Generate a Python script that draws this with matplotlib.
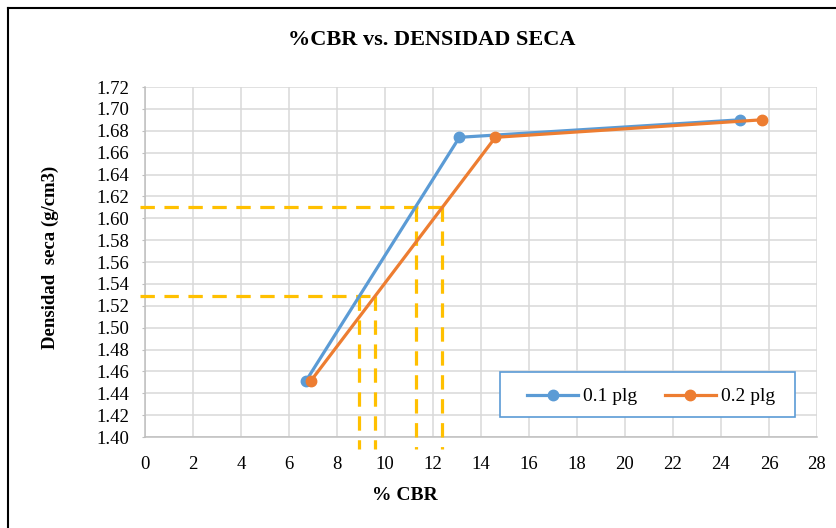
import matplotlib
matplotlib.use("Agg")
import matplotlib.pyplot as plt
from matplotlib.lines import Line2D
from matplotlib.patches import Rectangle

# Data
cbr_01 = [6.7, 13.1, 24.8]
dens_01 = [1.451, 1.674, 1.690]
cbr_02 = [6.9, 14.6, 25.7]
dens_02 = [1.451, 1.674, 1.690]

# reference (interpolated reading) lines
ref_density = [1.529, 1.610]
ref_cbr_01 = [8.92, 11.28]
ref_cbr_02 = [9.58, 12.38]

x_ticks = list(range(0, 29, 2))
y_ticks = [1.40 + 0.02 * i for i in range(17)]

blue = "#5B9BD5"
orange = "#ED7D31"
gold = "#FFC000"
serif = ["Liberation Serif", "DejaVu Serif"]

W, H = 837, 528
fig = plt.figure(figsize=(W / 100, H / 100), dpi=100)
ax = fig.add_axes([145 / W, (H - 437) / H, (817 - 145) / W, (437 - 87) / H])

# dashed reference lines
dash = (0, (4.5, 3))
for d, c1, c2 in zip(ref_density, ref_cbr_01, ref_cbr_02):
    ax.plot([-0.2, c2], [d, d], color=gold, lw=2.3, linestyle=dash, clip_on=False, zorder=3)
    for c in (c1, c2):
        ax.plot([c, c], [d, 1.389], color=gold, lw=2.3, linestyle=dash, clip_on=False, zorder=3)

ax.plot(cbr_01, dens_01, color=blue, lw=2.3, marker="o", ms=7.5, label="0.1 plg", zorder=4)
ax.plot(cbr_02, dens_02, color=orange, lw=2.3, marker="o", ms=7.5, label="0.2 plg", zorder=5)

ax.set_xlim(0, 28)
ax.set_ylim(1.40, 1.72)
ax.set_xticks(x_ticks)
ax.set_yticks(y_ticks)
ax.set_yticklabels([f"{v:.2f}" for v in y_ticks])
ax.grid(True, color="#D9D9D9", lw=1.1)
ax.set_axisbelow(True)
for s in ("top", "right"):
    ax.spines[s].set_visible(False)
for s in ("left", "bottom"):
    ax.spines[s].set_color("#BFBFBF")
    ax.spines[s].set_linewidth(1.1)
ax.tick_params(axis="y", length=2.5, color="#BFBFBF", labelsize=13.5, pad=9)
ax.tick_params(axis="x", length=0, labelsize=13.5, pad=14)
for lab in ax.get_xticklabels() + ax.get_yticklabels():
    lab.set_fontfamily(serif)

fig.text(405 / W, 1 - 495 / H, "% CBR", ha="center", va="center",
         fontfamily=serif, fontweight="bold", fontsize=14)
fig.text(50 / W, 1 - 257 / H, "Densidad  seca (g/cm3)", ha="center", va="center", rotation=90,
         fontfamily=serif, fontweight="bold", fontsize=13.5)

fig.text(432 / W, 1 - 40 / H, "%CBR vs. DENSIDAD SECA", ha="center", va="center",
         fontfamily=serif, fontweight="bold", fontsize=16)

# legend box
ax.add_patch(Rectangle((500 / W, 1 - 417 / H), 295 / W, 45 / H, transform=fig.transFigure,
                       facecolor="white", edgecolor=blue, lw=1.2, zorder=6, clip_on=False))
leg = ax.legend(loc="center", bbox_to_anchor=(651 / W, 1 - 396.5 / H), bbox_transform=fig.transFigure,
                ncol=2, frameon=False, prop={"family": serif, "size": 14},
                handlelength=2.6, handletextpad=0.25, borderpad=0, columnspacing=1.45)
leg.set_zorder(7)

# outer border (left and top)
fig.add_artist(Line2D([8 / W, 8 / W], [0, 1 - 8 / H], color="black", lw=1.5, transform=fig.transFigure))
fig.add_artist(Line2D([8 / W, 1], [1 - 8 / H, 1 - 8 / H], color="black", lw=1.5, transform=fig.transFigure))

fig.savefig("out.png", dpi=100)
